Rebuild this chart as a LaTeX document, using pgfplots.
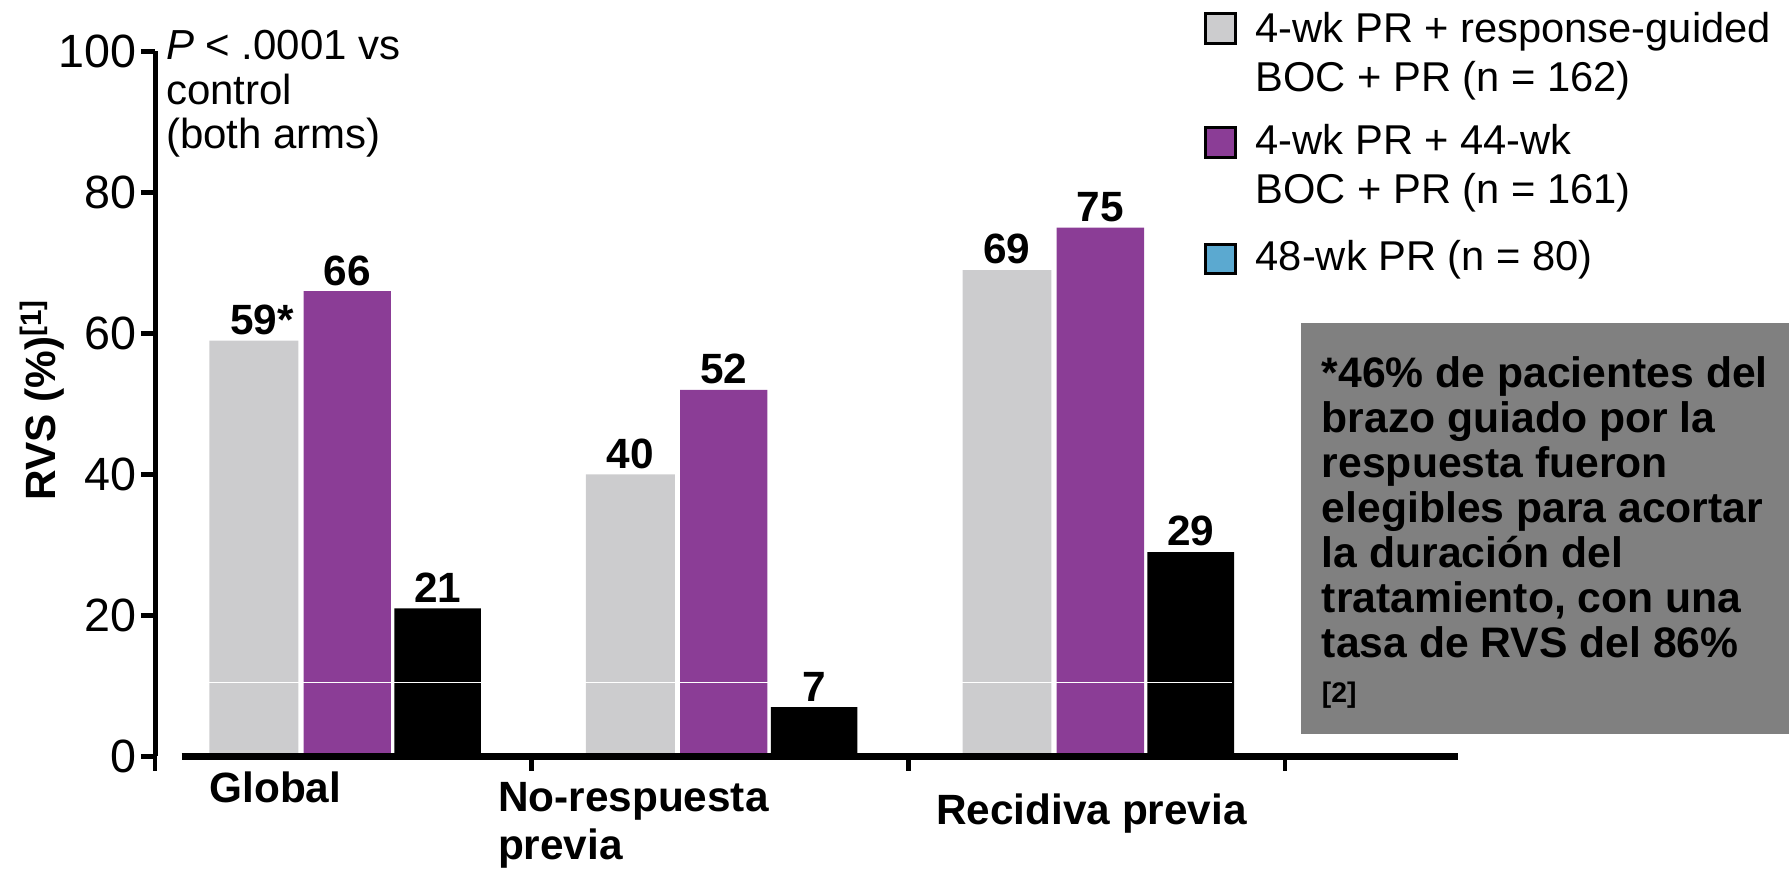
\documentclass[border=0pt]{standalone}
\usepackage{pgfplots}
\pgfplotsset{compat=1.18}
\usepackage{fontspec}
\setmainfont{Liberation Sans}

\definecolor{armgray}{HTML}{CCCCCE}
\definecolor{armpurple}{HTML}{8B3D96}
\definecolor{armblue}{HTML}{5BA9D0}
\definecolor{notegray}{HTML}{808080}

\newcommand{\lblfont}{\fontsize{12.7}{14.4}\selectfont}

\begin{document}
\begin{tikzpicture}
% page frame and free text, in a 1568 x 759 grid (y downwards)
\begin{scope}[x=0.3423pt,y=-0.3423pt]
  \path[use as bounding box] (0,0) rectangle (1568,759);
\end{scope}

\begin{axis}[
  at={(46.55pt,-226.94pt)}, anchor=south west,
  scale only axis,
  width=390.9pt, height=211.5pt,
  xmin=-0.5, xmax=2.96, ymin=0, ymax=100,
  axis line style={draw=none},
  clip=false,
  ytick={0,20,40,60,80,100},
  xtick={-0.5,0.5,1.5,2.5}, xticklabels={},
  ytick pos=left, xtick pos=bottom,
  tick align=outside,
  major tick length=4.3pt,
  every tick/.style={black, line width=1.4pt},
  /pgf/number format/assume math mode=true,
  yticklabel style={font=\fontsize{14}{14}\selectfont, inner sep=0pt, xshift=-1.2pt},
  every node near coord/.style={font=\bfseries\lblfont, inner sep=1.5pt, anchor=south},
]
% 4-wk PR + response-guided BOC + PR
\addplot[ybar, bar width=0.236, bar shift=0pt, fill=armgray, draw=none,
  nodes near coords, point meta=explicit symbolic]
  coordinates {(-0.238,59) [59\rlap{*}] (0.762,40) [40] (1.762,69) [69]};
% 4-wk PR + 44-wk BOC + PR
\addplot[ybar, bar width=0.232, bar shift=0pt, fill=armpurple, draw=none,
  nodes near coords, point meta=explicit symbolic]
  coordinates {(0.010,66) [66] (1.010,52) [52] (2.010,75) [75]};
% 48-wk PR
\addplot[ybar, bar width=0.230, bar shift=0pt, fill=black, draw=none,
  nodes near coords, point meta=explicit symbolic]
  coordinates {(0.250,21) [21] (1.250,7) [7] (2.250,29) [29]};
% thin white rule across the bars
\addplot[white, line width=0.35pt, forget plot] coordinates {(-0.5,10.5) (2.36,10.5)};
% axis lines
\draw[line width=1.5pt] (axis cs:-0.5,0) -- (axis cs:-0.5,100);
\draw[line width=1.9pt] (axis cs:-0.43,0) -- (axis cs:2.96,0);
\end{axis}

\begin{scope}[x=0.3423pt,y=-0.3423pt]
  % significance note
  \node[anchor=north west, align=left, inner sep=0pt,
        font=\fontsize{12.6}{13.35}\selectfont] at (145,26)
        {\textit{P} < .0001 vs\\control\\(both arms)};
  % y-axis title
  \node[rotate=90, font=\bfseries\lblfont] at (37,350)
        {RVS (\%)\textsuperscript{[1]}};
  % category labels
  \node[anchor=west, inner sep=0pt, font=\bfseries\lblfont] at (183,690) {Global};
  \node[anchor=north west, align=left, inner sep=0pt, font=\bfseries\lblfont] at (436,685)
        {No-respuesta\\previa};
  \node[anchor=west, inner sep=0pt, font=\bfseries\lblfont] at (820,713) {Recidiva previa};

  % legend
  \draw[fill=armgray, line width=0.9pt] (1057,12) rectangle (1083,38);
  \draw[fill=armpurple, line width=0.9pt] (1057,112) rectangle (1083,138);
  \draw[fill=armblue, line width=0.9pt] (1057,214) rectangle (1083,240);
  \node[anchor=north west, align=left, inner sep=0pt,
        font=\fontsize{12.5}{14.7}\selectfont] at (1100,10)
        {4-wk PR + response-guided\\BOC + PR (n = 162)};
  \node[anchor=north west, align=left, inner sep=0pt,
        font=\fontsize{12.5}{14.7}\selectfont] at (1100,108)
        {4-wk PR + 44-wk\\BOC + PR (n = 161)};
  \node[anchor=north west, align=left, inner sep=0pt,
        font=\fontsize{12.5}{14.7}\selectfont] at (1100,210)
        {48-wk PR (n = 80)};

  % footnote box
  \fill[notegray] (1140,283) rectangle (1568,643);
  \node[anchor=north west, align=left, inner sep=0pt,
        font=\bfseries\fontsize{12.8}{13.5}\selectfont] at (1158,312)
        {*46\% de pacientes del\\brazo guiado por la\\respuesta fueron\\elegibles para acortar\\la duración del\\tratamiento, con una\\tasa de RVS del 86\%\\ {\fontsize{8.5}{10}\selectfont[2]}};
\end{scope}
\end{tikzpicture}
\end{document}
